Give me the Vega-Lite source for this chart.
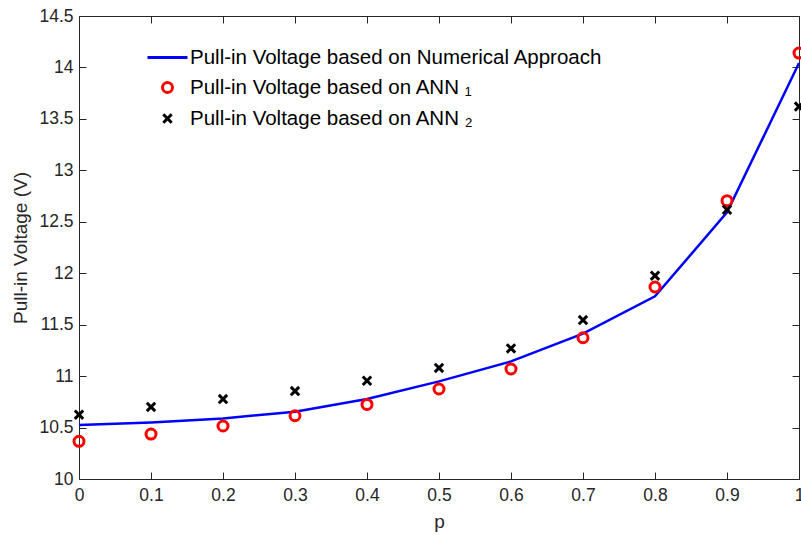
{
  "$schema": "https://vega.github.io/schema/vega-lite/v6.json",
  "width": 720,
  "height": 463,
  "autosize": {"type": "none"},
  "padding": {"left": 79, "top": 16, "right": 2, "bottom": 56},
  "background": "white",
  "config": {
    "view": {"stroke": null},
    "font": "Liberation Sans",
    "axis": {
      "domainColor": "#262626",
      "domainWidth": 1,
      "tickColor": "#262626",
      "tickSize": -7,
      "tickWidth": 1,
      "labelColor": "#262626",
      "labelFont": "Liberation Sans",
      "labelFontSize": 17.5,
      "titleFont": "Liberation Sans",
      "titleFontSize": 19,
      "titleFontWeight": "normal",
      "titleColor": "#262626",
      "grid": false
    },
    "legend": {
      "labelFont": "Liberation Sans",
      "labelFontSize": 20.5,
      "labelColor": "#000000",
      "labelLimit": 0
    }
  },
  "datasets": {
    "numerical": [
      {"p": 0.0, "V": 10.525, "series": "Pull-in Voltage based on Numerical Approach"},
      {"p": 0.1, "V": 10.55, "series": "Pull-in Voltage based on Numerical Approach"},
      {"p": 0.2, "V": 10.589, "series": "Pull-in Voltage based on Numerical Approach"},
      {"p": 0.3, "V": 10.654, "series": "Pull-in Voltage based on Numerical Approach"},
      {"p": 0.4, "V": 10.777, "series": "Pull-in Voltage based on Numerical Approach"},
      {"p": 0.5, "V": 10.949, "series": "Pull-in Voltage based on Numerical Approach"},
      {"p": 0.6, "V": 11.143, "series": "Pull-in Voltage based on Numerical Approach"},
      {"p": 0.7, "V": 11.412, "series": "Pull-in Voltage based on Numerical Approach"},
      {"p": 0.8, "V": 11.775, "series": "Pull-in Voltage based on Numerical Approach"},
      {"p": 0.9, "V": 12.591, "series": "Pull-in Voltage based on Numerical Approach"},
      {"p": 1.0, "V": 14.043, "series": "Pull-in Voltage based on Numerical Approach"}
    ],
    "ann": [
      {"p": 0.0, "V": 10.366, "series": "Pull-in Voltage based on ANN ₁"},
      {"p": 0.1, "V": 10.437, "series": "Pull-in Voltage based on ANN ₁"},
      {"p": 0.2, "V": 10.515, "series": "Pull-in Voltage based on ANN ₁"},
      {"p": 0.3, "V": 10.615, "series": "Pull-in Voltage based on ANN ₁"},
      {"p": 0.4, "V": 10.725, "series": "Pull-in Voltage based on ANN ₁"},
      {"p": 0.5, "V": 10.875, "series": "Pull-in Voltage based on ANN ₁"},
      {"p": 0.6, "V": 11.069, "series": "Pull-in Voltage based on ANN ₁"},
      {"p": 0.7, "V": 11.373, "series": "Pull-in Voltage based on ANN ₁"},
      {"p": 0.8, "V": 11.866, "series": "Pull-in Voltage based on ANN ₁"},
      {"p": 0.9, "V": 12.705, "series": "Pull-in Voltage based on ANN ₁"},
      {"p": 1.0, "V": 14.14, "series": "Pull-in Voltage based on ANN ₁"},
      {"p": 0.0, "V": 10.625, "series": "Pull-in Voltage based on ANN ₂"},
      {"p": 0.1, "V": 10.70, "series": "Pull-in Voltage based on ANN ₂"},
      {"p": 0.2, "V": 10.777, "series": "Pull-in Voltage based on ANN ₂"},
      {"p": 0.3, "V": 10.855, "series": "Pull-in Voltage based on ANN ₂"},
      {"p": 0.4, "V": 10.955, "series": "Pull-in Voltage based on ANN ₂"},
      {"p": 0.5, "V": 11.079, "series": "Pull-in Voltage based on ANN ₂"},
      {"p": 0.6, "V": 11.269, "series": "Pull-in Voltage based on ANN ₂"},
      {"p": 0.7, "V": 11.545, "series": "Pull-in Voltage based on ANN ₂"},
      {"p": 0.8, "V": 11.976, "series": "Pull-in Voltage based on ANN ₂"},
      {"p": 0.9, "V": 12.617, "series": "Pull-in Voltage based on ANN ₂"},
      {"p": 1.0, "V": 13.62, "series": "Pull-in Voltage based on ANN ₂"}
    ]
  },
  "resolve": {"axis": {"x": "independent", "y": "independent"}},
  "layer": [
    {
      "data": {"name": "numerical"},
      "mark": {"type": "line", "strokeWidth": 2.5, "clip": false},
      "encoding": {
        "x": {
          "field": "p", "type": "quantitative",
          "scale": {"domain": [0, 1], "nice": false, "zero": false},
          "axis": {"orient": "bottom", "values": [0, 0.1, 0.2, 0.3, 0.4, 0.5, 0.6, 0.7, 0.8, 0.9, 1], "format": "~g", "title": "p", "labelPadding": 14, "titlePadding": 9, "labelFlush": false}
        },
        "y": {
          "field": "V", "type": "quantitative",
          "scale": {"domain": [10, 14.5], "nice": false, "zero": false},
          "axis": {"orient": "left", "values": [10, 10.5, 11, 11.5, 12, 12.5, 13, 13.5, 14, 14.5], "format": "~g", "title": "Pull-in Voltage (V)", "labelPadding": 13, "titlePadding": 8, "labelFlush": false}
        },
        "color": {
          "field": "series", "type": "nominal",
          "scale": {
            "domain": ["Pull-in Voltage based on Numerical Approach", "Pull-in Voltage based on ANN ₁", "Pull-in Voltage based on ANN ₂"],
            "range": ["#0000ff", "#ff0000", "#000000"]
          },
          "legend": {
            "title": null,
            "orient": "none",
            "legendX": 77,
            "legendY": 30,
            "symbolSize": 400,
            "symbolStrokeWidth": 3,
            "labelOffset": 11,
            "rowPadding": 8,
            "padding": 0
          }
        }
      }
    },
    {
      "data": {"name": "ann"},
      "mark": {"type": "point", "filled": false, "size": 400, "strokeWidth": 3, "opacity": 1, "clip": false},
      "encoding": {
        "x": {
          "field": "p", "type": "quantitative",
          "scale": {"domain": [0, 1], "nice": false, "zero": false},
          "axis": {"orient": "top", "values": [0, 0.1, 0.2, 0.3, 0.4, 0.5, 0.6, 0.7, 0.8, 0.9, 1], "labels": false, "title": null}
        },
        "y": {
          "field": "V", "type": "quantitative",
          "scale": {"domain": [10, 14.5], "nice": false, "zero": false},
          "axis": {"orient": "right", "values": [10, 10.5, 11, 11.5, 12, 12.5, 13, 13.5, 14, 14.5], "labels": false, "title": null}
        },
        "color": {
          "field": "series", "type": "nominal",
          "scale": {
            "domain": ["Pull-in Voltage based on Numerical Approach", "Pull-in Voltage based on ANN ₁", "Pull-in Voltage based on ANN ₂"],
            "range": ["#0000ff", "#ff0000", "#000000"]
          }
        },
        "shape": {
          "field": "series", "type": "nominal",
          "scale": {
            "domain": ["Pull-in Voltage based on Numerical Approach", "Pull-in Voltage based on ANN ₁", "Pull-in Voltage based on ANN ₂"],
            "range": ["M-2,0L2,0", "M-0.5,0A0.5,0.5 0 1,0 0.5,0A0.5,0.5 0 1,0 -0.5,0Z", "M-0.42,-0.42L0.42,0.42M-0.42,0.42L0.42,-0.42"]
          }
        }
      }
    }
  ]
}
